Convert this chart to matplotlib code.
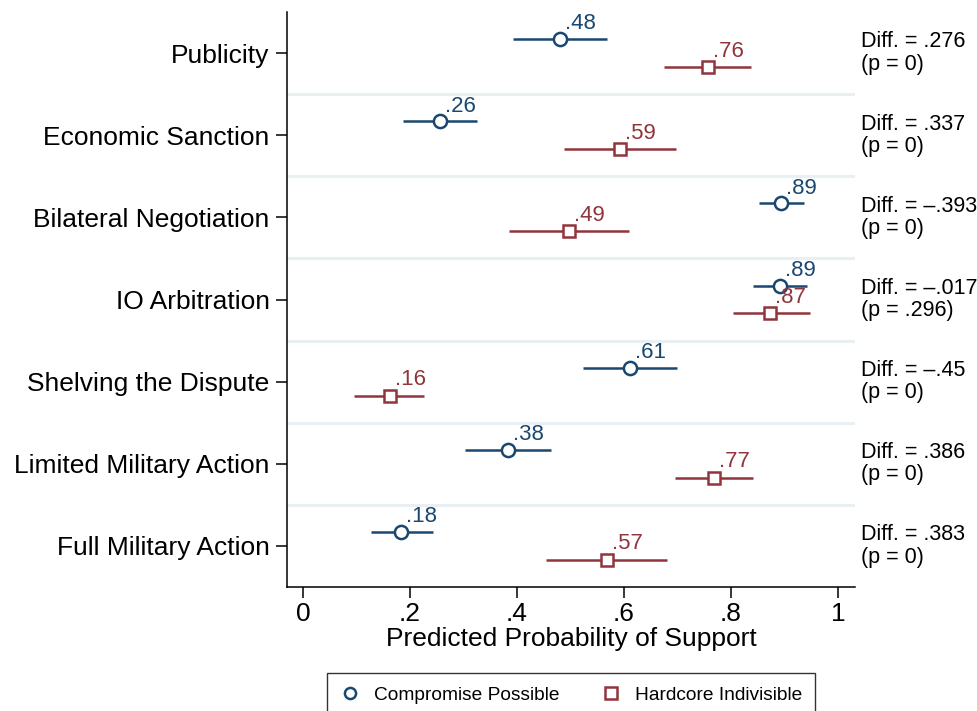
import numpy as np
import matplotlib
matplotlib.use("Agg")
import matplotlib.pyplot as plt
from matplotlib.lines import Line2D

plt.rcParams['font.family'] = ['Liberation Sans', 'DejaVu Sans']

categories = ['Publicity', 'Economic Sanction', 'Bilateral Negotiation', 'IO Arbitration',
              'Shelving the Dispute', 'Limited Military Action', 'Full Military Action']

# Compromise Possible
comp_est = [0.48, 0.256, 0.893, 0.892, 0.611, 0.383, 0.184]
comp_lo = [0.392, 0.186, 0.852, 0.842, 0.523, 0.302, 0.127]
comp_hi = [0.569, 0.326, 0.937, 0.943, 0.699, 0.464, 0.243]
comp_lbl = ['.48', '.26', '.89', '.89', '.61', '.38', '.18']

# Hardcore Indivisible
hard_est = [0.757, 0.593, 0.498, 0.874, 0.162, 0.768, 0.568]
hard_lo = [0.675, 0.488, 0.385, 0.803, 0.095, 0.695, 0.455]
hard_hi = [0.838, 0.697, 0.61, 0.948, 0.227, 0.842, 0.68]
hard_lbl = ['.76', '.59', '.49', '.87', '.16', '.77', '.57']

diff_txt = ['.276', '.337', '\u2013.393', '\u2013.017', '\u2013.45', '.386', '.383']
p_txt = ['0', '0', '0', '.296', '0', '0', '0']

navy = '#1a476f'
maroon = '#90353b'

fig = plt.figure(figsize=(9.78, 7.11), dpi=100)
ax = fig.add_axes([287 / 978, 1 - 587 / 711, (855 - 287) / 978, (587 - 12) / 711])

y = np.arange(len(categories))
off = 0.17

for i in range(len(categories) - 1):
    ax.axhline(i + 0.5, color='#e8f0f3', lw=2.2, zorder=0)

ax.hlines(y - off, comp_lo, comp_hi, color=navy, lw=1.8, zorder=2)
ax.plot(comp_est, y - off, 'o', ms=9.5, mfc='white', mec=navy, mew=1.8, zorder=3)
ax.hlines(y + off, hard_lo, hard_hi, color=maroon, lw=1.8, zorder=2)
ax.plot(hard_est, y + off, 's', ms=9, mfc='white', mec=maroon, mew=1.8, zorder=3)

for i in range(len(categories)):
    ax.annotate(comp_lbl[i], (comp_est[i], y[i] - off), xytext=(3.5, 7), textcoords='offset points',
                ha='left', va='baseline', color=navy, fontsize=16)
    ax.annotate(hard_lbl[i], (hard_est[i], y[i] + off), xytext=(3.5, 7.5), textcoords='offset points',
                ha='left', va='baseline', color=maroon, fontsize=16)
    ax.text(1.044, y[i], 'Diff. = ' + diff_txt[i] + '\n(p = ' + p_txt[i] + ')',
            ha='left', va='center', fontsize=15.5, linespacing=1.08, clip_on=False)

ax.set_xlim(-0.03, 1.032)
ax.set_ylim(len(categories) - 0.5, -0.5)
ax.set_yticks(y)
ax.set_yticklabels(categories, fontsize=19)
ax.set_xticks([0, 0.2, 0.4, 0.6, 0.8, 1])
ax.set_xticklabels(['0', '.2', '.4', '.6', '.8', '1'], fontsize=19)
ax.set_xlabel('Predicted Probability of Support', fontsize=19, labelpad=1)

for s in ['top', 'right']:
    ax.spines[s].set_visible(False)
for s in ['left', 'bottom']:
    ax.spines[s].set_linewidth(1.1)
ax.tick_params(axis='both', length=8, width=1.1, pad=2.5)
ax.tick_params(axis='y', pad=4.5)

handles = [Line2D([], [], marker='o', ls='none', ms=8, mfc='white', mec=navy, mew=1.8),
           Line2D([], [], marker='s', ls='none', ms=8, mfc='white', mec=maroon, mew=1.8)]
leg = fig.legend(handles, ['Compromise Possible', 'Hardcore Indivisible'], ncol=2,
                 loc='upper center', bbox_to_anchor=(571 / 978, 1 - 673 / 711),
                 fontsize=13.8, frameon=True, fancybox=False, edgecolor='black',
                 handlelength=1.0, handletextpad=0.75, columnspacing=2.2, borderpad=0.7,
                 borderaxespad=0)
leg.get_frame().set_linewidth(1.0)

fig.savefig('out.png', dpi=100)
